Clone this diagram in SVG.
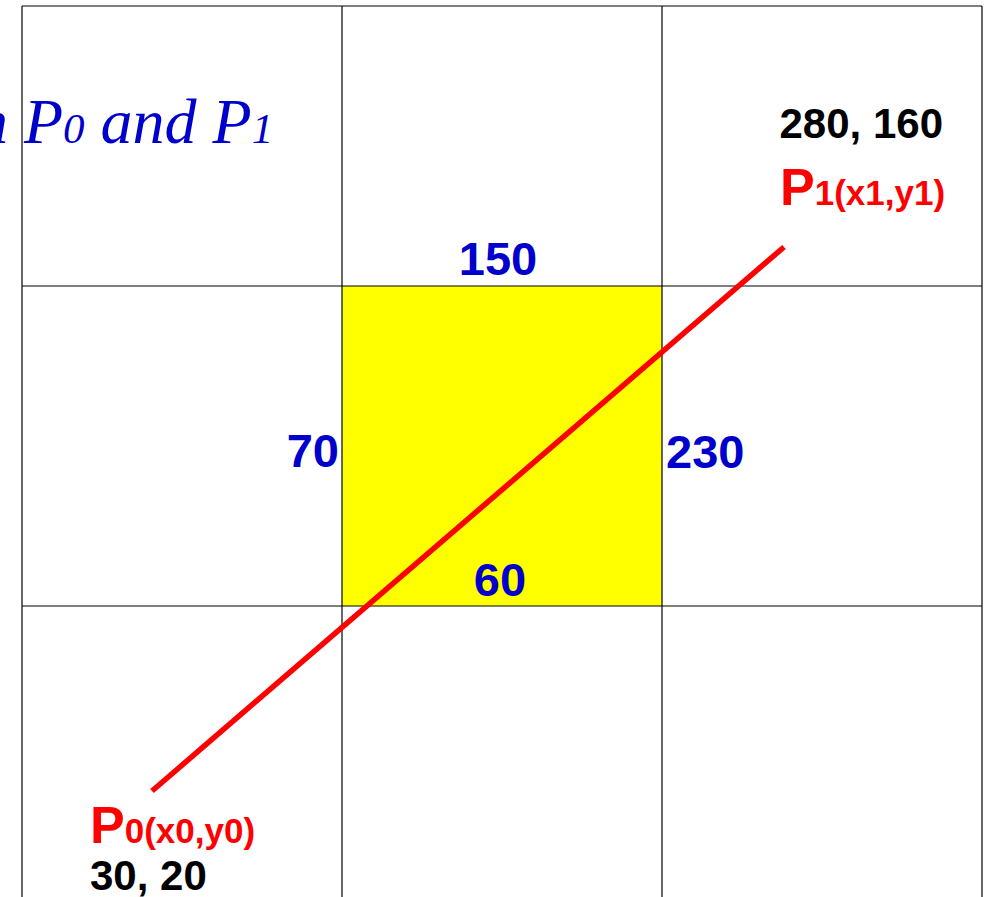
<svg xmlns="http://www.w3.org/2000/svg" width="995" height="897" viewBox="0 0 995 897">
<style>
.grid{stroke:#000;stroke-width:1.2;fill:none}
.num{font-family:"Liberation Sans",Arial,sans-serif;font-weight:bold;fill:#0000CC;font-size:47px}
.coord{font-family:"Liberation Sans",Arial,sans-serif;font-weight:bold;fill:#000;font-size:42px}
.pt{font-family:"Liberation Sans",Arial,sans-serif;font-weight:bold;fill:#FF0000}
.title{font-family:"Liberation Serif","Times New Roman",serif;font-style:italic;fill:#0000CC}
</style>
<rect x="0" y="0" width="995" height="897" fill="#fff"/>
<g id="clip-window">
<rect x="342" y="286" width="320" height="320" fill="#FFFF00"/>
</g>
<g id="grid">
<line class="grid" x1="22" y1="6" x2="982" y2="6"/>
<line class="grid" x1="22" y1="286" x2="982" y2="286"/>
<line class="grid" x1="22" y1="606" x2="982" y2="606"/>
<line class="grid" x1="22" y1="6" x2="22" y2="897"/>
<line class="grid" x1="342" y1="6" x2="342" y2="897"/>
<line class="grid" x1="662" y1="6" x2="662" y2="897"/>
<line class="grid" x1="982" y1="6" x2="982" y2="897"/>
</g>
<g id="title">
<text class="title" x="24" y="143" font-size="64">P<tspan font-size="43">0</tspan> and P<tspan font-size="43">1</tspan></text>
<text class="title" x="8" y="143" font-size="64" text-anchor="end">n</text>
</g>
<g id="edge-labels">
<text class="num" x="498" y="275" text-anchor="middle">150</text>
<text class="num" x="339" y="467" text-anchor="end">70</text>
<text class="num" x="666" y="468">230</text>
<text class="num" x="500" y="596" text-anchor="middle">60</text>
</g>
<g id="connectors">
<line x1="152" y1="791" x2="784" y2="247" stroke="#FF0000" stroke-width="5.5"/>
</g>
<g id="p1">
<text class="coord" x="943" y="138" text-anchor="end">280, 160</text>
<text class="pt" x="780" y="205" font-size="52">P<tspan font-size="35">1(x1,y1)</tspan></text>
</g>
<g id="p0">
<text class="pt" x="90" y="843" font-size="52">P<tspan font-size="35">0(x0,y0)</tspan></text>
<text class="coord" x="90" y="890">30, 20</text>
</g>
</svg>
